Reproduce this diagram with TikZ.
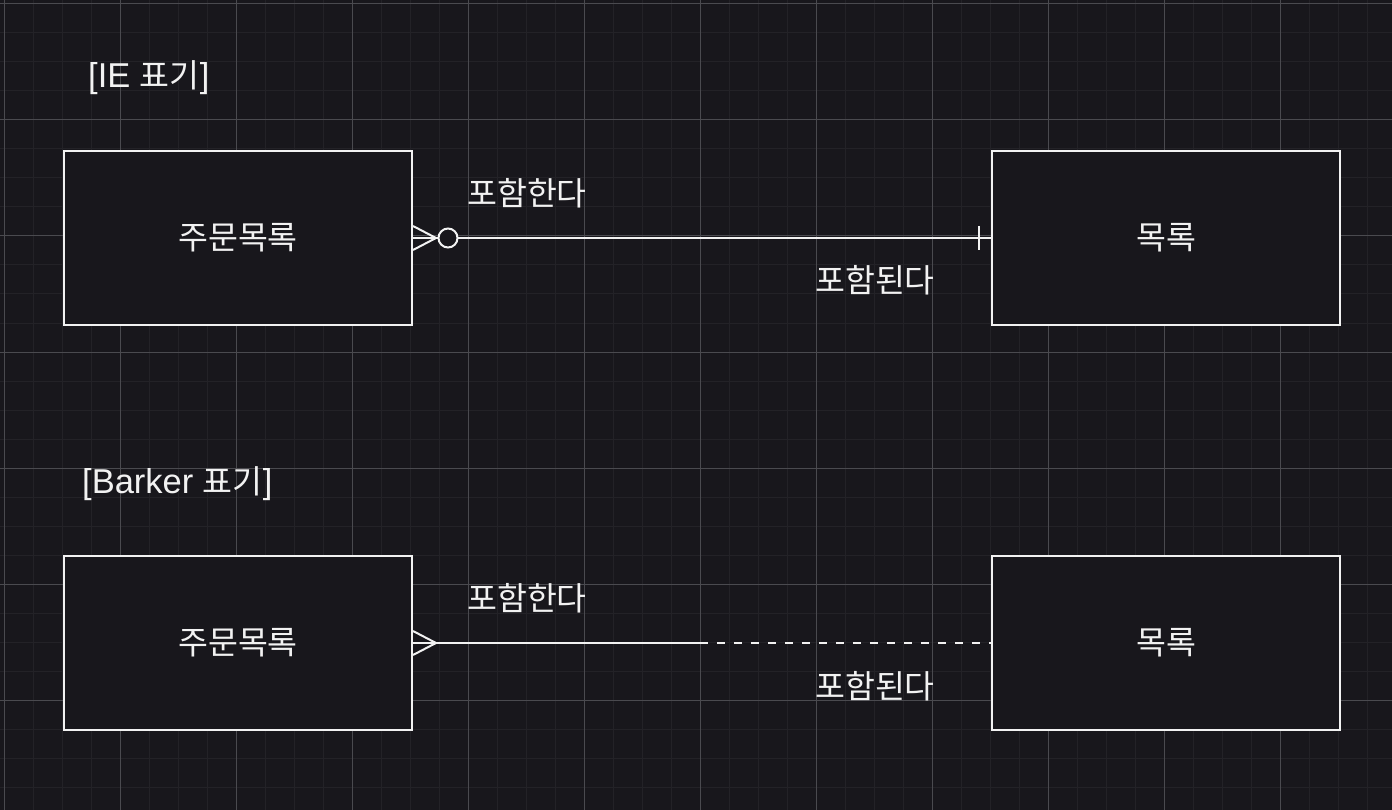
\documentclass[tikz,border=0pt]{standalone}
\usepackage{fontspec}
\setmainfont{Liberation Sans}
\newfontfamily\kor{Noto Sans CJK KR}
\usetikzlibrary{calc,positioning}
\definecolor{bgcol}{HTML}{18171C}
\definecolor{gridminor}{HTML}{232227}
\definecolor{gridmajor}{HTML}{4A4A4F}
\definecolor{ink}{HTML}{F2F2F2}

\begin{document}
\begin{tikzpicture}[
x=1pt, y=-1pt,
entity/.style={
    draw=ink,
    fill=bgcol,
    rectangle,
    line width=2pt,
    minimum width=348pt,
    minimum height=174pt,
    inner sep=0pt,
    text=ink,
    font=\kor\fontsize{32.5}{38}\selectfont
},
rel/.style={draw=ink, line width=2pt},
lbl/.style={text=ink, font=\kor\fontsize{32.5}{38}\selectfont, inner sep=0pt},
title/.style={text=ink, font=\fontsize{34.5}{40}\selectfont, inner sep=0pt, anchor=west}
]

% background and grid
\fill[bgcol] (0,0) rectangle (1392,810);
\useasboundingbox (0,0) rectangle (1392,810);
\foreach \g in {4,33,...,1392} {
    \draw[gridminor, line width=1pt] (\g,0) -- (\g,810);
}
\foreach \g in {4,33,...,810} {
    \draw[gridminor, line width=1pt] (0,\g) -- (1392,\g);
}
\foreach \g in {4,120,...,1392} {
    \draw[gridmajor, line width=1pt] (\g,0) -- (\g,810);
}
\foreach \g in {4,120,...,810} {
    \draw[gridmajor, line width=1pt] (0,\g) -- (1392,\g);
}

% [IE 표기]
\node[title] (ietitle) at (88,78) {[IE {\kor\fontsize{32.5}{38}\selectfont 표기}]};

\node[entity] (orderie) at (238,238) {주문목록};
\node[entity] (listie) at (1166,238) {목록};

\draw[rel] (orderie.east) -- (listie.west);
\draw[rel] ($(orderie.east)+(0,-12)$) -- ($(orderie.east)+(23,0)$) -- ($(orderie.east)+(0,12)$);
\draw[rel, fill=bgcol] ($(orderie.east)+(35,0)$) circle (9.5);
\draw[rel] ($(listie.west)+(-12,-12)$) -- ($(listie.west)+(-12,12)$);

\node[lbl] (ieinc) at (527,193) {포함한다};
\node[lbl] (ieincd) at (875,280) {포함된다};

% [Barker 표기]
\node[title] (barkertitle) at (82,484) {[Barker {\kor\fontsize{32.5}{38}\selectfont 표기}]};

\node[entity] (orderbk) at (238,643) {주문목록};
\node[entity] (listbk) at (1166,643) {목록};

\coordinate (bkmid) at (700,643);
\draw[rel] (orderbk.east) -- (bkmid);
\draw[rel, dash pattern=on 8pt off 9pt] (bkmid) -- (listbk.west);
\draw[rel] ($(orderbk.east)+(0,-12)$) -- ($(orderbk.east)+(23,0)$) -- ($(orderbk.east)+(0,12)$);

\node[lbl] (bkinc) at (527,598) {포함한다};
\node[lbl] (bkincd) at (875,686) {포함된다};

\end{tikzpicture}
\end{document}
